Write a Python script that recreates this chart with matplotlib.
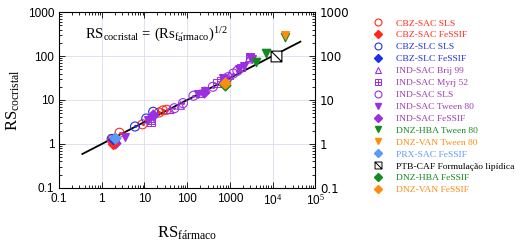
import matplotlib
matplotlib.use("Agg")
import matplotlib.pyplot as plt
import numpy as np
from matplotlib.lines import Line2D
from matplotlib.path import Path

plt.rcParams['mathtext.fontset'] = 'custom'
plt.rcParams['mathtext.rm'] = 'Liberation Serif'
plt.rcParams['mathtext.it'] = 'Liberation Serif:italic'

# data (RS_farmaco, RS_cocristal)
cbz_sac_sls_x = [1.8, 2.6, 9, 22, 27, 33]
cbz_sac_sls_y = [1.3, 1.8, 2.8, 5.2, 5.8, 6.0]
cbz_sac_fessif_x = [1.8, 1.7]
cbz_sac_fessif_y = [1.0, 1.15]
cbz_slc_sls_x = [1.7, 6, 11, 16]
cbz_slc_sls_y = [1.3, 2.5, 3.8, 5.4]
cbz_slc_fessif_x = [1.8]
cbz_slc_fessif_y = [1.3]
ind_brij_x = [15, 40, 70, 200, 1000, 2800]
ind_brij_y = [3.4, 6.0, 7.5, 14, 36, 85]
ind_myrj_x = [14, 500, 600, 1800, 3000]
ind_myrj_y = [3.2, 24, 27, 55, 95]
ind_sls_x = [50, 80, 140, 400, 900, 1200, 1500]
ind_sls_y = [6.5, 8.5, 12.5, 20, 33, 40, 46]
ind_tween_x = [2.0, 3.5, 12, 180, 260, 700, 1600, 2200, 3000, 3300]
ind_tween_y = [1.0, 1.45, 3.6, 14, 16, 32, 50, 60, 95, 85]
ind_fessif_x = [2.0, 16, 250]
ind_fessif_y = [1.05, 4.5, 15]
dnz_hba_tween_x = [800, 4000, 7000, 20000]
dnz_hba_tween_y = [22, 72, 120, 270]
dnz_van_tween_x = [20000]
dnz_van_tween_y = [295]
prx_sac_fessif_x = [2.0]
prx_sac_fessif_y = [1.4]
ptb_caf_x = [12000]
ptb_caf_y = [100]
dnz_hba_fessif_x = [790]
dnz_hba_fessif_y = [22]
dnz_van_fessif_x = [780]
dnz_van_fessif_y = [25]

red = '#ff2a1a'
blue = '#1f2fe8'
purple = '#9b30e0'
purple_txt = '#a03cb4'
green = '#138a1e'
orange = '#ff8c10'
lblue = '#5a9cf5'

# square with diagonal marker
box_slash = Path([(-1, -1), (1, -1), (1, 1), (-1, 1), (-1, -1), (-1, 1), (1, -1)],
                 [Path.MOVETO, Path.LINETO, Path.LINETO, Path.LINETO, Path.CLOSEPOLY,
                  Path.MOVETO, Path.LINETO])
box_plus = Path([(-1, -1), (1, -1), (1, 1), (-1, 1), (-1, -1), (0, -1), (0, 1), (-1, 0), (1, 0)],
                [Path.MOVETO, Path.LINETO, Path.LINETO, Path.LINETO, Path.CLOSEPOLY,
                 Path.MOVETO, Path.LINETO, Path.MOVETO, Path.LINETO])

fig = plt.figure(figsize=(5.28, 2.46), dpi=100)
ax = fig.add_axes([0.112, 0.236, 0.485, 0.715])

# reference line y = x^0.5
xl = np.logspace(np.log10(0.35), np.log10(45000), 50)
ax.plot(xl, xl ** 0.5, color='black', lw=1.3, zorder=2)


def circ(x, y, c):
    ax.scatter(x, y, s=42, facecolors='none', edgecolors=c, linewidths=0.8, zorder=3)
    ax.scatter(x, y, s=1.5, color=c, zorder=3)


circ(cbz_sac_sls_x, cbz_sac_sls_y, red)
circ(cbz_slc_sls_x, cbz_slc_sls_y, blue)
circ(ind_sls_x, ind_sls_y, purple)
ax.scatter(ind_brij_x, ind_brij_y, s=30, marker='^', facecolors='none', edgecolors=purple, linewidths=0.8, zorder=3)
ax.scatter(ind_myrj_x, ind_myrj_y, s=30, marker=box_plus, facecolors='none', edgecolors=purple, linewidths=0.7, zorder=3)
ax.scatter(ind_tween_x, ind_tween_y, s=30, marker='v', color=purple, zorder=4)
ax.scatter(ind_fessif_x, ind_fessif_y, s=30, marker='D', color=purple, zorder=4)
ax.scatter(cbz_sac_fessif_x, cbz_sac_fessif_y, s=25, marker='D', color=red, zorder=4)
ax.scatter(cbz_slc_fessif_x, cbz_slc_fessif_y, s=25, marker='D', color=blue, zorder=4)
ax.scatter(prx_sac_fessif_x, prx_sac_fessif_y, s=30, marker='D', color=lblue, zorder=5)
ax.scatter(dnz_hba_tween_x, dnz_hba_tween_y, s=35, marker='v', color=green, zorder=4)
ax.scatter(dnz_van_tween_x, dnz_van_tween_y, s=30, marker='v', color=orange, zorder=5)
ax.scatter(dnz_hba_fessif_x, dnz_hba_fessif_y, s=30, marker='D', color=green, zorder=4)
ax.scatter(dnz_van_fessif_x, dnz_van_fessif_y, s=30, marker='D', color=orange, zorder=5)
ax.scatter(ptb_caf_x, ptb_caf_y, s=60, marker=box_slash, facecolors='white', edgecolors='black', linewidths=0.8, zorder=5)

ax.set_xscale('log')
ax.set_yscale('log')
ax.set_xlim(0.1, 1e5)
ax.set_ylim(0.1, 1000)
ax.set_xticks([0.1, 1, 10, 100, 1000, 1e4, 1e5])
ax.set_xticklabels(['0.1', '1', '10', '100', '1000', r'10$^4$', r'10$^5$'])
ax.set_yticks([0.1, 1, 10, 100, 1000])
ax.set_yticklabels(['0.1', '1', '10', '100', '1000'])
for lab in ax.get_xticklabels() + ax.get_yticklabels():
    lab.set_family('Liberation Sans')
ax.tick_params(which='both', direction='in', top=True, right=True, labelright=True,
               labelsize=8.5, width=0.6)
ax.tick_params(which='major', length=4)
ax.tick_params(which='minor', length=2)
ax.grid(True, which='major', color='#dcdcf2', lw=0.6)
for s in ax.spines.values():
    s.set_linewidth(0.8)

ax.set_xlabel(r'$\mathrm{RS}_{\mathrm{f\acute{a}rmaco}}$', fontsize=12, labelpad=12)
ax.set_ylabel(r'$\mathrm{RS}_{\mathrm{cocristal}}$', fontsize=12, labelpad=4)
ax.text(0.4, 300, r'$\mathrm{RS}_{\mathrm{cocristal}}\,=\,(\mathrm{Rs}_{\mathrm{f\acute{a}rmaco}})^{1/2}$',
        fontsize=10.5, va='center', ha='left')

# legend
labels = ['CBZ-SAC SLS', 'CBZ-SAC FeSSIF', 'CBZ-SLC SLS', 'CBZ-SLC FeSSIF',
          'IND-SAC Brij 99', 'IND-SAC Myrj 52', 'IND-SAC SLS', 'IND-SAC Tween 80',
          'IND-SAC FeSSIF', 'DNZ-HBA Tween 80', 'DNZ-VAN Tween 80', 'PRX-SAC FeSSIF',
          'PTB-CAF Formulação lipídica', 'DNZ-HBA FeSSIF', 'DNZ-VAN FeSSIF']
txt_colors = [red, red, blue, blue, purple_txt, purple_txt, purple_txt, purple_txt,
              purple_txt, green, orange, lblue, 'black', green, orange]
handles = [
    Line2D([], [], ls='none', marker='o', mfc='none', mec=red, ms=5, mew=0.8),
    Line2D([], [], ls='none', marker='D', color=red, ms=4.5),
    Line2D([], [], ls='none', marker='o', mfc='none', mec=blue, ms=5, mew=0.8),
    Line2D([], [], ls='none', marker='D', color=blue, ms=4.5),
    Line2D([], [], ls='none', marker='^', mfc='none', mec=purple, ms=5, mew=0.8),
    Line2D([], [], ls='none', marker=box_plus, mfc='none', mec=purple, ms=5, mew=0.7),
    Line2D([], [], ls='none', marker='o', mfc='none', mec=purple, ms=5, mew=0.8),
    Line2D([], [], ls='none', marker='v', color=purple, ms=5),
    Line2D([], [], ls='none', marker='D', color=purple, ms=4.5),
    Line2D([], [], ls='none', marker='v', color=green, ms=5),
    Line2D([], [], ls='none', marker='v', color=orange, ms=4),
    Line2D([], [], ls='none', marker='D', color=lblue, ms=4.5),
    Line2D([], [], ls='none', marker=box_slash, mfc='white', mec='black', ms=5, mew=0.7),
    Line2D([], [], ls='none', marker='D', color=green, ms=4.5),
    Line2D([], [], ls='none', marker='D', color=orange, ms=4.5),
]
leg = fig.legend(handles, labels, loc='upper left', bbox_to_anchor=(0.707, 0.923),
                 frameon=False, prop={'family': 'Liberation Serif', 'size': 6.8},
                 labelspacing=0.35, handlelength=1.0, handletextpad=1.4, borderpad=0,
                 borderaxespad=0)
for t, c in zip(leg.get_texts(), txt_colors):
    t.set_color(c)

fig.savefig('out.png', dpi=100)
